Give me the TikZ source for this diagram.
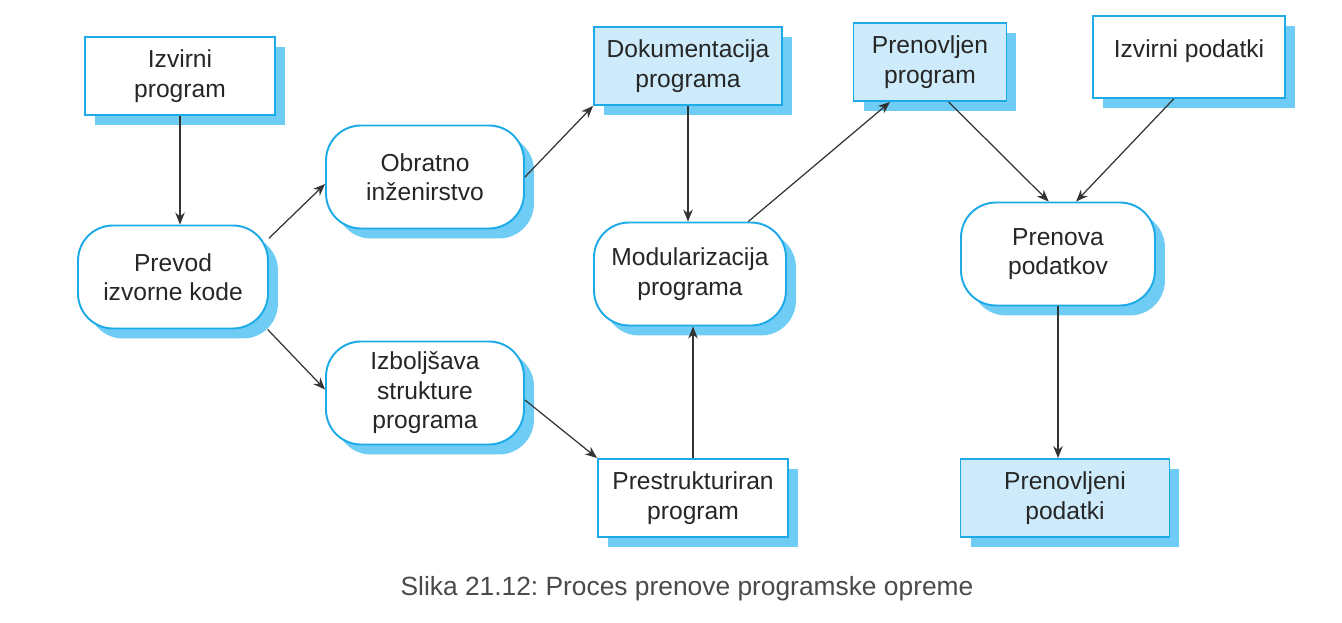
\documentclass[tikz,border=0pt]{standalone}
\usepackage{fontspec}
\setmainfont{Liberation Sans}
\usepackage{xcolor}
\usepackage{tikz}
\usetikzlibrary{shapes,arrows,arrows.meta,positioning,shadows}

\definecolor{edgeblue}{HTML}{1EAAE6}
\definecolor{shadeblue}{HTML}{6FCDF5}
\definecolor{fillblue}{HTML}{CDEBFA}
\definecolor{arrowgray}{HTML}{333333}
\definecolor{captgray}{HTML}{4A4A4A}

\begin{document}
\begin{tikzpicture}[
    x=0.02cm, y=-0.02cm,
    box/.style={rectangle, draw=edgeblue, line width=1.1pt, fill=white, align=center,
        font=\fontsize{14pt}{16.8pt}\selectfont, text=black!85,
        drop shadow={shadow xshift=0.2cm, shadow yshift=-0.2cm, fill=shadeblue, opacity=1}},
    proc/.style={box, rounded corners=0.7cm, minimum height=2.06cm},
    doc/.style={box, minimum height=1.56cm},
    arrow/.style={-{Stealth[length=2.4mm, width=1.9mm]}, draw=arrowgray, line width=0.7pt}
]
\useasboundingbox (0,0) rectangle (1342,622);

% Programs and data
\node[doc, minimum width=3.8cm] (izvprog) at (180,76) {Izvirni\\program};
\node[doc, fill=fillblue, minimum width=3.76cm] (dokum) at (688,66) {Dokumentacija\\programa};
\node[doc, minimum width=3.8cm] (prestr) at (693,498) {Prestrukturiran\\program};
\node[doc, fill=fillblue, minimum width=3.06cm] (prenprog) at (930,62) {Prenovljen\\program};
\node[doc, minimum width=3.84cm, text height=0.7cm, text depth=0.7cm] (izvpod) at (1189,57) {Izvirni podatki};
\node[doc, fill=fillblue, minimum width=4.18cm] (prenpodat) at (1065,498) {Prenovljeni\\podatki};

% Processes
\node[proc, minimum width=3.8cm] (prevod) at (173,277) {Prevod\\izvorne kode};
\node[proc, minimum width=3.96cm] (obratno) at (425,177) {Obratno\\inženirstvo};
\node[proc, minimum width=3.96cm] (izbolj) at (425,393) {Izboljšava\\strukture\\programa};
\node[proc, minimum width=3.84cm] (modul) at (690,274) {Modularizacija\\programa};
\node[proc, minimum width=3.88cm] (prenpod) at (1058,254) {Prenova\\podatkov};

% Caption
\node[font=\fontsize{15pt}{18pt}\selectfont\frenchspacing, text=captgray] (caption) at (687,589) {Slika 21.12: Proces prenove programske opreme};

% Arrows
\draw[arrow] (izvprog.south) -- (izvprog.south |- prevod.north);
\draw[arrow] (prevod.22) -- (obratno.184);
\draw[arrow] (prevod.-29) -- (izbolj.178);
\draw[arrow] (obratno.east) -- (dokum.south west);
\draw[arrow] (dokum.south) -- (dokum.south |- modul.north);
\draw[arrow] (izbolj.-4) -- (prestr.north west);
\draw[arrow] (prestr.north) -- (prestr.north |- modul.south);
\draw[arrow] (modul.42) -- (prenprog.225);
\draw[arrow] (prenprog.-65) -- (prenpod.100);
\draw[arrow] (izvpod.250) -- (prenpod.71);
\draw[arrow] (prenpod.south) -- (prenpod.south |- prenpodat.north);

\end{tikzpicture}
\end{document}
